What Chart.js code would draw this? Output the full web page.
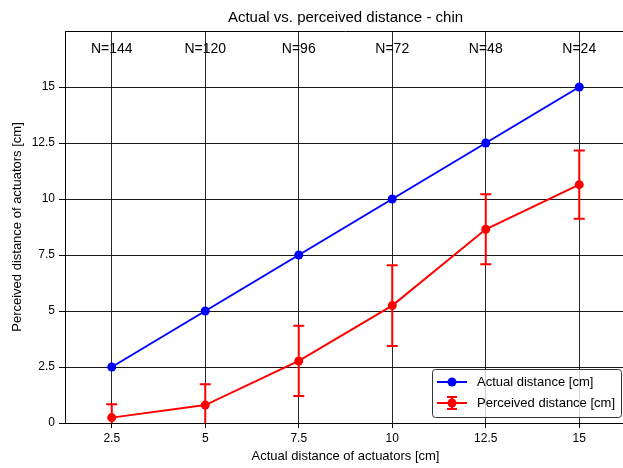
<!DOCTYPE html>
<html>
<head>
<meta charset="utf-8">
<script src="https://cdn.jsdelivr.net/npm/chart.js@4/dist/chart.umd.min.js"></script>
<style>
  html, body { margin: 0; padding: 0; background: #fff; overflow: hidden; }
  #wrap { width: 623px; height: 468px; overflow: hidden; }
  #wrap canvas { display: block; }
</style>
</head>
<body>
<div id="wrap"><canvas id="chart" width="632" height="468"></canvas></div>
<script>
const FONT = '"Liberation Sans", "DejaVu Sans", sans-serif';

const actualDistance = [2.5, 5, 7.5, 10, 12.5, 15];
const perceivedMean = [0.24, 0.80, 2.77, 5.24, 8.65, 10.64];
const perceivedStd = [0.60, 0.93, 1.57, 1.80, 1.56, 1.52];
const sampleSizes = [144, 120, 96, 72, 48, 24];
const xTicks = [2.5, 5, 7.5, 10, 12.5, 15];
const yTicks = [0, 2.5, 5, 7.5, 10, 12.5, 15];

const BLUE = '#0000ff';
const RED = '#ff0000';

const fmt = (v) => String(v);

// vertical error bars with caps for the perceived series
const errorBars = {
  id: 'errorBars',
  afterDatasetsDraw(chart) {
    const { ctx, scales: { x, y }, chartArea } = chart;
    ctx.save();
    ctx.beginPath();
    ctx.rect(chartArea.left, chartArea.top, chartArea.right - chartArea.left, chartArea.bottom - chartArea.top);
    ctx.clip();
    ctx.strokeStyle = RED;
    ctx.lineWidth = 2;
    actualDistance.forEach((d, i) => {
      const px = x.getPixelForValue(d);
      const top = y.getPixelForValue(perceivedMean[i] + perceivedStd[i]);
      const bot = y.getPixelForValue(perceivedMean[i] - perceivedStd[i]);
      ctx.beginPath();
      ctx.moveTo(px, top);
      ctx.lineTo(px, bot);
      ctx.moveTo(px - 5.5, top);
      ctx.lineTo(px + 5.5, top);
      ctx.moveTo(px - 5.5, bot);
      ctx.lineTo(px + 5.5, bot);
      ctx.stroke();
    });
    ctx.restore();
  }
};

// title over the axes, top spine, N labels and the boxed legend
const decorations = {
  id: 'decorations',
  afterDraw(chart) {
    const { ctx, scales: { x, y }, chartArea } = chart;
    ctx.save();
    ctx.strokeStyle = '#000';
    ctx.lineWidth = 1;
    ctx.beginPath();
    ctx.moveTo(chartArea.left, Math.round(chartArea.top) + 0.5);
    ctx.lineTo(chartArea.right, Math.round(chartArea.top) + 0.5);
    ctx.moveTo(Math.round(chartArea.right) - 0.5, chartArea.top);
    ctx.lineTo(Math.round(chartArea.right) - 0.5, chartArea.bottom);
    ctx.stroke();

    ctx.fillStyle = '#000';
    ctx.textAlign = 'center';
    ctx.textBaseline = 'middle';
    ctx.font = '15px ' + FONT;
    ctx.fillText('Actual vs. perceived distance - chin', (chartArea.left + chartArea.right) / 2, 18);

    ctx.font = '14px ' + FONT;
    actualDistance.forEach((d, i) => {
      ctx.fillText('N=' + sampleSizes[i], x.getPixelForValue(d), y.getPixelForValue(16.7));
    });

    // legend
    const lx = 432, ly = 369, lw = 189, lh = 48;
    ctx.fillStyle = 'rgba(255,255,255,0.8)';
    ctx.strokeStyle = '#333';
    ctx.lineWidth = 1;
    ctx.beginPath();
    ctx.roundRect(lx + 0.5, ly + 0.5, lw, lh, 3);
    ctx.fill();
    ctx.stroke();

    const rows = [
      { label: 'Actual distance [cm]', color: BLUE, err: false, yy: 382 },
      { label: 'Perceived distance [cm]', color: RED, err: true, yy: 403 }
    ];
    rows.forEach((r) => {
      ctx.strokeStyle = r.color;
      ctx.fillStyle = r.color;
      ctx.lineWidth = 2;
      ctx.beginPath();
      ctx.moveTo(437, r.yy);
      ctx.lineTo(467, r.yy);
      if (r.err) {
        ctx.moveTo(452, r.yy - 6);
        ctx.lineTo(452, r.yy + 6);
        ctx.moveTo(447, r.yy - 6);
        ctx.lineTo(457, r.yy - 6);
        ctx.moveTo(447, r.yy + 6);
        ctx.lineTo(457, r.yy + 6);
      }
      ctx.stroke();
      ctx.beginPath();
      ctx.arc(452, r.yy, 4.5, 0, Math.PI * 2);
      ctx.fill();
      ctx.fillStyle = '#000';
      ctx.font = '13px ' + FONT;
      ctx.textAlign = 'left';
      ctx.fillText(r.label, 477, r.yy);
    });
    ctx.restore();
  }
};

new Chart(document.getElementById('chart'), {
  type: 'line',
  data: {
    datasets: [
      {
        label: 'Actual distance [cm]',
        data: actualDistance.map((d) => ({ x: d, y: d })),
        borderColor: BLUE,
        backgroundColor: BLUE,
        borderWidth: 2,
        pointRadius: 4.5,
        pointHoverRadius: 4.5,
        pointBorderWidth: 0,
        tension: 0
      },
      {
        label: 'Perceived distance [cm]',
        data: actualDistance.map((d, i) => ({ x: d, y: perceivedMean[i] })),
        borderColor: RED,
        backgroundColor: RED,
        borderWidth: 2,
        pointRadius: 4.5,
        pointHoverRadius: 4.5,
        pointBorderWidth: 0,
        tension: 0
      }
    ]
  },
  options: {
    responsive: false,
    animation: false,
    events: [],
    layout: { padding: { top: 31, left: 0, right: 6, bottom: 0 } },
    plugins: {
      legend: { display: false },
      tooltip: { enabled: false },
      title: { display: false }
    },
    scales: {
      x: {
        type: 'linear',
        min: 1.25,
        max: 16.25,
        afterBuildTicks: (scale) => { scale.ticks = xTicks.map((v) => ({ value: v })); },
        afterFit: (scale) => { scale.height = 45; },
        ticks: {
          color: '#000',
          font: { family: FONT, size: 12 },
          padding: 3,
          maxRotation: 0,
          callback: fmt
        },
        grid: { color: 'rgba(0,0,0,0.85)', lineWidth: 1, tickLength: 5, tickColor: '#000' },
        border: { display: true, color: '#000', width: 1 },
        title: {
          display: true,
          text: 'Actual distance of actuators [cm]',
          color: '#000',
          font: { family: FONT, size: 13 },
          padding: { top: 2, bottom: 3.5 }
        }
      },
      y: {
        type: 'linear',
        min: 0,
        max: 17.5,
        afterBuildTicks: (scale) => { scale.ticks = yTicks.map((v) => ({ value: v })); },
        afterFit: (scale) => { scale.width = 65; },
        ticks: {
          color: '#000',
          font: { family: FONT, size: 12 },
          padding: 4,
          callback: fmt
        },
        grid: { color: 'rgba(0,0,0,0.9)', lineWidth: 1, tickLength: 6, tickColor: '#000' },
        border: { display: true, color: '#000', width: 1 },
        title: {
          display: true,
          text: 'Perceived distance of actuators [cm]',
          color: '#000',
          font: { family: FONT, size: 13 },
          padding: { top: 9.5, bottom: 4 }
        }
      }
    }
  },
  plugins: [errorBars, decorations]
});
</script>
</body>
</html>
